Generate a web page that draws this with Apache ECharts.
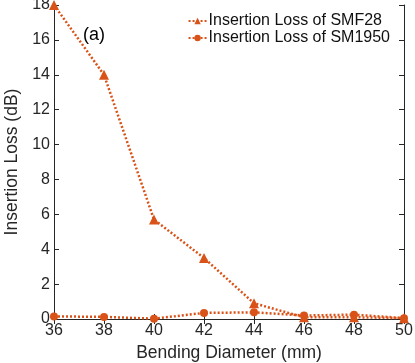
<!DOCTYPE html>
<html><head><meta charset="utf-8">
<script src="https://cdn.jsdelivr.net/npm/echarts@6/dist/echarts.min.js"></script>
<style>html,body{margin:0;padding:0;background:#fff}#c{width:415px;height:363px}</style>
</head><body><div id="c"></div>
<script>
const diameters = [36, 38, 40, 42, 44, 46, 48, 50];
const smf28 = [18, 14, 5.7, 3.5, 0.9, 0.1, 0.1, 0.05];
const sm1950 = [0.15, 0.12, 0.02, 0.35, 0.38, 0.2, 0.25, 0.05];
const seriesNames = ['Insertion Loss of SMF28', 'Insertion Loss of SM1950'];
const color = '#D95319';
const font = 'Liberation Sans, Arial, sans-serif';
const chart = echarts.init(document.getElementById('c'));
const axLine = {show: true, lineStyle: {color: '#262626', width: 1}};
const tick = {show: true, inside: true, length: 5, lineStyle: {color: '#262626'}};
chart.setOption({
  animation: false,
  grid: {left: 54, right: 11, top: 5, bottom: 44, containLabel: false, outerBoundsMode: 'none'},
  legend: {
    right: 20, top: 8, orient: 'vertical', itemGap: 1, itemWidth: 18, itemHeight: 8,
    textStyle: {fontFamily: font, fontSize: 16, color: '#111', padding: [0, 0, 0, -3]},
    data: seriesNames
  },
  graphic: [{type: 'text', left: 83, top: 26, style: {text: '(a)', font: '18px ' + font, fill: '#000'}}],
  xAxis: [{
    type: 'value', min: 36, max: 50, interval: 2, position: 'bottom',
    name: 'Bending Diameter (mm)', nameLocation: 'middle', nameGap: 21,
    nameTextStyle: {fontFamily: font, fontSize: 17.5, color: '#262626'},
    axisLine: axLine, axisTick: tick, splitLine: {show: false},
    axisLabel: {fontFamily: font, fontSize: 16, color: '#262626', margin: 4}
  }, {
    type: 'value', min: 36, max: 50, interval: 2, position: 'top',
    axisLine: axLine, axisTick: tick, splitLine: {show: false}, axisLabel: {show: false}
  }],
  yAxis: [{
    type: 'value', min: 0, max: 18, interval: 2, position: 'left',
    name: 'Insertion Loss (dB)', nameLocation: 'middle', nameGap: 31,
    nameTextStyle: {fontFamily: font, fontSize: 17.5, color: '#262626'},
    axisLine: axLine, axisTick: tick, splitLine: {show: false},
    axisLabel: {fontFamily: font, fontSize: 16, color: '#262626', margin: 4}
  }, {
    type: 'value', min: 0, max: 18, interval: 2, position: 'right',
    axisLine: axLine, axisTick: tick, splitLine: {show: false}, axisLabel: {show: false}
  }],
  series: [{
    name: seriesNames[0], type: 'line', data: diameters.map((d, i) => [d, smf28[i]]),
    symbol: 'triangle', symbolSize: 10, itemStyle: {color: color},
    lineStyle: {color: color, width: 2.5, type: [2, 2]}
  }, {
    name: seriesNames[1], type: 'line', data: diameters.map((d, i) => [d, sm1950[i]]),
    symbol: 'circle', symbolSize: 8, itemStyle: {color: color},
    lineStyle: {color: color, width: 2.5, type: [2, 2]}
  }]
});
</script></body></html>
